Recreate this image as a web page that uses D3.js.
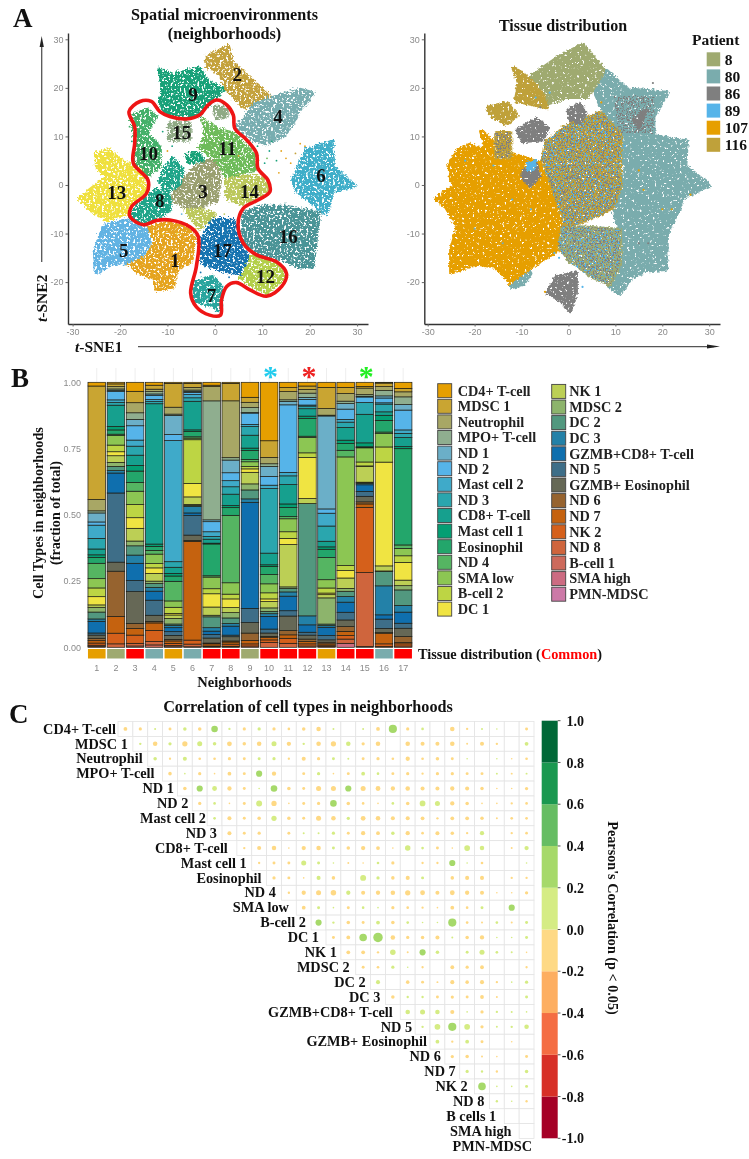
<!DOCTYPE html>
<html><head><meta charset="utf-8">
<script src="https://cdnjs.cloudflare.com/ajax/libs/d3/7.8.5/d3.min.js"></script>
<style>
html,body{margin:0;padding:0;background:#fff}
svg{display:block;filter:blur(0.35px)}
text{font-family:"Liberation Serif",serif;font-weight:bold;fill:#111}
.tick text{font-family:"Liberation Sans",sans-serif;font-weight:normal;fill:#8a8a8a;font-size:9px}
</style></head><body><svg id="c" width="749" height="1159"></svg>
<script>
// ---------- Panel A : regions of the t-SNE maps, [x, y] in t-SNE units
const nbIds=[1,2,3,4,5,6,7,8,9,10,11,12,13,14,15,16,17];
const nbColors=["#E5A41F","#C4A23C","#9AA071","#78ADB0","#62B3E3","#3FAEC9","#2AA59E","#1FA589","#18A178","#45B06A","#6EBB5A","#B3CF4A","#EFE03E","#BCC85C","#8FAA85","#4A9497","#1673B0"];
const nbHulls=[
 [[[-18.3,-16.1],[-14.4,-14.8],[-12.3,-11.3],[-14.4,-8.9],[-10.2,-7.6],[-6,-8.6],[-4.2,-10.6],[-4.9,-15.5],[-8.1,-17.5],[-8.8,-20.9],[-12.3,-21.6],[-12.6,-19.2],[-15.8,-18.2]]],
 [[[-1.8,26.4],[2.8,28.5],[3.9,25.1],[11.6,18.2],[8.8,16.8],[6,16.1],[2.5,19.9],[1.1,23],[-1.4,24.4]]],
 [[[-3.9,3.8],[.4,5.8],[1.1,1],[.4,-3.1],[-3.2,-4.5],[-6,-4.5],[-8.8,-3.1],[-8.1,-1],[-6,1.7]]],
 [[[4.6,12],[8.8,16.8],[13,18.2],[17.9,19.6],[20.7,18.9],[17.9,15.5],[16.5,12.7],[14.4,10],[10.9,8.6],[8.1,9.3]]],
 [[[-25.3,-14.1],[-23.5,-8.6],[-18.6,-7.2],[-14.4,-9.3],[-13.7,-12],[-15.1,-14.1],[-18.3,-15.8],[-21.4,-16.1],[-24.9,-17.9]]],
 [[[16.5,1],[19.3,7.2],[24.9,8.9],[24.9,3.8],[29.5,-.2],[24.9,-1],[23.5,-5.8],[20.7,-3.8],[17.2,-1]]],
 [[[-4.6,-20.3],[-.4,-18.9],[1.4,-20.9],[1.1,-25.8],[-1.1,-24.7],[-4.2,-23.7]]],
 [[[-17.9,-6.5],[-15.8,-3.8],[-12.3,-1],[-9.5,-2.4],[-9.5,-5.2],[-11.6,-6.5],[-15.1,-7.9]],[[-10.5,3.1],[-8.8,5.5],[-6.7,3.1],[-7.4,.3],[-10.2,-1.7],[-11.6,1]]],
 [[[-11.7,23.8],[-8.8,22.7],[-3.2,24],[-1.8,21.6],[1.8,19.6],[-.4,17.5],[-3.2,14.4],[-6,14.1],[-10.2,14.8],[-11.6,16.8],[-10.9,19.6]],[[-6,6.2],[-3.2,6.5],[-2.5,5.2],[-5.3,4.5]]],
 [[[-17.6,14.1],[-14.4,15.5],[-12.3,14.1],[-14.4,10.6],[-11.6,7.9],[-11.6,3.8],[-14.4,1.7],[-16.5,4.5],[-16.5,8.6]]],
 [[[-2.5,13.4],[1.1,11.3],[3.9,10.6],[8.8,5.8],[8.8,3.1],[5.3,2.4],[2.5,1.7],[.4,5.2],[-3.2,7.9],[-1.8,10]]],
 [[[6,-16.8],[8.1,-14.4],[13,-16.1],[15.1,-18.9],[10.9,-22.3],[8.1,-20.9],[5.3,-18.9]]],
 [[[-28.5,-2.7],[-22.8,1.7],[-24.9,3.8],[-24.9,6.5],[-22.1,7.2],[-20,5.2],[-15.8,3.1],[-14.4,-1],[-18.3,-4.5],[-18.6,-5.8],[-22.8,-7.2],[-26.4,-4.8]]],
 [[[2.5,1],[5.3,1.7],[10.2,1.7],[11.6,-1],[8.8,-3.1],[5.3,-3.8],[2.5,-2.4]],[[-6,-5.2],[-2.5,-5.2],[0,-6],[-3.2,-9]]],
 [[[-9.5,12.7],[-5.3,12.7],[-5.3,9.3],[-9.5,9.3]],[[0,16.1],[2.5,16.1],[2.5,14.1],[.4,13.7]]],
 [[[6,-5.8],[10.2,-4.5],[15.1,-4.5],[22.1,-5.8],[21.4,-10],[20.7,-16.8],[17.9,-16.8],[13,-14.8],[8.8,-14.1],[6,-11.3]]],
 [[[-3.2,-12],[-.4,-7.2],[3.9,-7.2],[5.3,-12],[7,-14.8],[5.3,-18.2],[1.1,-17.5],[-2.5,-16.1]]]
];
const nbLabelX=[-8.4,4.7,-2.5,13.3,-19.2,22.4,-.7,-11.6,-4.6,-14.0,2.6,10.7,-20.7,7.3,-7.0,15.5,1.6];
const nbLabelY=[-15.6,22.7,-1.4,14.1,-13.5,1.9,-22.7,-3.2,18.7,6.5,7.6,-18.8,-1.6,-1.4,10.8,-10.5,-13.5];
const commonContour=[[-18.1,15.1],[-15.8,17.2],[-13.4,17.2],[-11.6,15.1],[-9.5,14.1],[-6,13.6],[-3.2,14.4],[-1.4,16.5],[.4,17.5],[2.5,16.5],[3.9,14.4],[4.2,11.7],[6.7,9.3],[8.8,6.5],[9.1,3.4],[11.2,1],[11.6,-1.4],[9.1,-3.1],[6,-4.8],[4.9,-7.9],[6,-12],[8.8,-14.4],[13,-15.8],[15.1,-18.2],[14.1,-20.9],[10.9,-22.9],[7.4,-21.6],[4.6,-20.1],[2.5,-20.9],[1.4,-23.7],[1.2,-26.8],[-1.1,-26.8],[-3.9,-25.1],[-5.1,-22.3],[-3.9,-16.8],[-3.5,-10.6],[-5.3,-8.6],[-9.5,-7.2],[-12.3,-7.3],[-15.1,-8.2],[-17.9,-6.5],[-17.6,-4.5],[-14.4,-1.7],[-14.1,1],[-17.2,4.5],[-16.9,8.6],[-16.9,12]];
const leftStrays=[[14,7,0],[15,5.5,0],[16,4.5,0],[18,8.5,0],[19,8,0],[13,5,8],[12,9,8],[11.5,7,7],[10.5,4.5,7],[11,5.5,10],[13.5,2.5,0],[17,6.5,1],[-16,11,7],[-17.5,9,8],[-18,12,9],[-15,11.5,9],[-10,7,0],[-9,8,7],[-11,11,8],[-19,2,12],[-21,-5,12],[-7,-6,4],[-8,-10,12],[-11,-10,12],[-4,-9,12],[20.5,-3,5],[22,-7,15],[5,6,0],[9,8,8],[-3,-18,16],[-2,-19,6],[3,-19,16],[-6,15,8],[2,-6,13],[-1,-7,11]];
const patients=["8","80","86","89","107","116"];
const patientColors=["#9FAA70","#7AACAD","#7F7F7F","#56B4E9","#E69F00","#BFA13A"];
const p107Hull=[[-28.1,-2.9],[-23.5,.3],[-24.9,1],[-25.3,4.5],[-23.2,7.2],[-21,8.2],[-18.9,7.2],[-17.5,7.9],[-18.5,11],[-16.1,8.6],[-15.3,7.2],[-10.4,5.8],[-6.1,4.5],[-4.7,1],[-2.6,-3.1],[-1.8,-6.5],[-.4,-8.6],[-1.1,-12.7],[-4.7,-14.8],[-8.9,-17.5],[-12.1,-20.3],[-15.3,-16.8],[-19.6,-16.1],[-24.9,-17.9],[-24.9,-13.4],[-23.5,-8.6],[-26,-4.5]];
const p80Hulls=[[[5.3,20.1],[8.1,23.4],[12.4,19.6],[20.9,18.9],[18,14.1],[18,10],[25.1,8.9],[24.8,3.8],[29.8,0],[24.4,-2.4],[23,-5.8],[20.9,-10],[20.7,-17.2],[16.6,-17.5],[13.4,-18.9],[10.9,-22.3],[8.8,-20.9],[10.2,-16.8],[11.6,-11.3],[9.5,-4.5],[10.9,-1.7],[12.4,3.8],[9.5,6.5],[10.9,8.6],[8.1,14.1]],[[-12.1,-20.9],[-8.2,-18.2],[-9.7,-20.3]]];
const p8Hulls=[[[-8.9,21.6],[-1.8,26.4],[3.1,28.8],[7.4,23.7],[5.3,20.1],[3.8,18.2],[-.4,18.2],[-4.7,16.8],[-5.4,18.2],[-8.2,19.2]],[[-1.1,-8.6],[10.9,-9.3],[10.9,-16.1],[8.8,-20.3],[5.3,-18.9],[.3,-15.5],[-1.8,-12.7]]];
const p116Hulls=[[[-11.6,24],[-8.2,21.6],[-5.4,18.2],[-4.7,16.1],[-8.2,16.8],[-11.1,17.5],[-10.4,20.9]],[[-17.1,15.8],[-13.2,16.8],[-11.1,14.4],[-13.2,12.7],[-16.1,14.1]],[[-4.7,8.6],[-.4,12],[6.7,14.8],[10.9,10.6],[10.9,-.3],[9.5,-4.5],[5.3,-6.5],[-.4,-8.6],[-3.3,-.3],[-5.4,5.2]],[[-15.3,10.6],[-12.5,10.6],[-12.5,5.8],[-15.3,5.8]]];
const p86Hulls=[[[-11.1,11.3],[-6.8,13.7],[-4.3,11.7],[-5.4,9.3],[-9.7,8.9]],[[-.1,15.5],[2.4,16.8],[3.8,14.8],[2.4,12.7],[.3,13.4]],[[-4.7,-22.3],[-2.6,-18.9],[1.7,-17.9],[1.7,-22.3],[.4,-26.1],[-1.8,-23.7]],[[-9.7,3.1],[-6.8,4.5],[-6.1,1.7],[-8.2,-.3],[-9.7,1.4]],[[13.8,13.4],[16.6,15.5],[15.2,11.7]]];
const p89Hull=[[-8.9,4.5],[-6.8,5.2],[-7.2,3.1],[-8.9,3.1]];
const mixedZones=[[[-4.7,8.6],[-.4,12],[6.7,14.8],[10.9,10.6],[10.9,-.3],[9.5,-4.5],[5.3,-6.5],[-.4,-8.6],[-3.3,-.3],[-5.4,5.2]],[[-1.1,-8.6],[10.9,-9.3],[10.9,-16.1],[8.8,-20.3],[5.3,-18.9],[.3,-15.5],[-1.8,-12.7]],[[-15.3,10.6],[-12.5,10.6],[-12.5,5.8],[-15.3,5.8]],[[10,18],[18,18],[18,11],[11,11]]];
const rightStrays=[[-16,4,3],[-22,5,3],[-12,-3,3],[-20,-9,1],[-14,-12,1],[-8,-5,3],[-3,-14,3],[-2,-15,3],[16,-1,4],[15,3,4],[26,-2,4],[20,-5,4],[22,-5,4],[17,-12,2],[15,-12,2],[9,3,0],[11,3,0],[10,4,0],[-5,-22,4],[3,-21,3],[2,-20,2],[-4,19,3],[-7,18,3],[-6,16,2],[18,21,2],[7,17,4],[12,8,3],[11,6,3]];
// ---------- Panel B : composition of each neighborhood (top of the bar first)
const cellTypes=["CD4+ T-cell","MDSC 1","Neutrophil","MPO+ T-cell","ND 1","ND 2","Mast cell 2","ND 3","CD8+ T-cell","Mast cell 1","Eosinophil","ND 4","SMA low","B-cell 2","DC 1","NK 1","MDSC 2","DC 2","DC 3","GZMB+CD8+ T-cell","ND 5","GZMB+ Eosinophil","ND 6","ND 7","NK 2","ND 8","B-cell 1","SMA high","PMN-MDSC"];
const cellColors=["#E69F00","#C9A532","#A8A765","#8FAE8F","#6BAFC8","#56B4E9","#3FAAC9","#2AA6AE","#16A08E","#049E73","#23A66B","#55B562","#8CC653","#BDD544","#F0E442","#BCCF55","#8DB46C","#52987F","#2381A8","#0F6FAE","#3E6E88","#666856","#96632F","#C5620F","#D5601B","#CF653D","#CD6A5C","#CC6B82","#CC79A7"];
const nb1=[1.4,42.8,4.3,.8,3.4,1.2,5,4,2.2,1,2.2,5.8,3.5,3.3,3.1,.9,1.8,2.6,.9,4.4,.8,1.2,.9,.9,.8,.4,.4,0,0];
const nb2=[.6,1,.9,.5,.5,3.1,1,1,8,1.3,1.6,.5,3.6,2.5,1.5,2.5,1.5,1.6,.9,7.5,26,3.4,17,6.3,4,1.3,0,0,0];
const nb3=[3.4,4.3,3.8,2.5,2.4,5.4,2.3,3.4,3.9,2.1,4.3,3.3,5,5,4,4.8,1.8,3.5,3.1,6.5,4.2,12,1.9,2.5,3.1,1,.5,0,0];
const nb4=[1.1,1.5,.9,.9,.5,1.6,.8,.8,53,.9,1.5,1.4,3.6,1.6,2.1,2.9,.9,1.5,1.4,3.4,5.7,2.3,.6,2.8,4.2,1.3,.9,0,0];
const nb5=[.4,9,2.6,.5,7.2,2.3,45.7,2.1,2.3,1,2,7.4,2.4,2.3,.6,1.3,2.1,.6,.8,1.5,1.4,1.5,.6,.9,.8,.5,.2,0,0];
const nb6=[.4,1.5,1,.5,.4,.8,1.2,1.3,10.7,.6,2,.5,.6,16.4,5,2.8,.4,.4,2.4,1,7.3,2,.4,36.9,1.5,1,.2,0,0];
const nb7=[1.1,.5,5.4,44.9,.7,3.8,1.8,1,1.5,.3,12,.5,4.4,1.9,5,3.1,.6,4.1,1.3,1.3,1.3,1.9,.3,.8,.3,.2,0,0,0];
const nb8=[.4,6.6,21.5,.9,4.8,3,2.3,2.8,4.3,.8,2.9,25.5,4.3,1.8,3.3,1.9,2,2.1,1,3.4,.6,1.6,.4,.8,.8,.2,.2,0,0];
const nb9=[5.7,1.9,2,1.9,.2,4.3,.8,3.3,4.9,.9,3.4,.9,1.8,.9,1.3,4.4,2.3,3.4,1.3,40.3,5.4,4,2.8,1.3,.8,.5,0,0,0];
const nb10=[22.1,6.3,2.4,1,3.8,3.3,1.3,24.4,4.4,.6,3.1,3.5,3.4,2.3,1,2.4,1.3,.9,1,4.8,1.5,1.3,.3,1,1,1.8,0,0,0];
const nb11=[2,1.5,3.1,.6,1.3,25.5,1.3,3.3,7.3,1.4,3.4,.8,4.9,2.5,2.3,16,.6,1.3,1.6,5.5,2,5.5,1.6,1.3,1.9,1.5,0,0,0];
const nb12=[1.4,1.3,1.4,1.6,.8,2.1,.4,1,2.8,.9,6.7,.5,5.8,1.8,15.5,1.9,0,42.5,3.4,2.8,1.1,1.5,.9,.9,.8,.5,0,0,0];
const nb13=[1.9,7.9,2.5,.3,34.8,1.6,4.8,5.7,2.1,.9,3.1,8.3,3.1,1.9,.6,1.2,9.8,.6,.6,3.1,1.6,.9,.6,.5,.5,.3,0,0,0];
const nb14=[1.9,2.3,2.9,.9,2.1,3.9,1,2,4.8,1.3,2.5,2.5,40.9,1.9,2.8,3.9,1.1,2,2.1,3.8,2.9,2.5,1.8,1.6,1.3,1.6,0,1.5,0];
const nb15=[1.6,.6,2.5,.6,.3,2.1,0,4.5,10.9,1.5,.2,.2,5.4,1.5,.2,6,.2,.3,.5,2.5,1.9,2.1,.8,1.3,24.9,28.2,.3,0,0];
const nb16=[.3,1.3,1.5,2,.8,1.8,.5,2.9,1.3,1.9,4.4,.6,5,5.7,39,1.9,.2,5.4,10.9,1.6,3.5,1.6,.2,4,1,.3,0,0,0];
const nb17=[2.3,1.3,1.9,2.9,2.1,7.5,1.3,1.6,3.4,.8,36.4,1.3,2.8,2.5,6.7,2.1,1.6,5.9,2.5,4.2,1.9,3.1,2.3,.5,.8,.5,0,0,0];
const nbComposition=[nb1,nb2,nb3,nb4,nb5,nb6,nb7,nb8,nb9,nb10,nb11,nb12,nb13,nb14,nb15,nb16,nb17];
const tissue=["107","8","Common","80","107","80","Common","Common","8","Common","Common","Common","107","Common","Common","80","Common"];
const starNbs=[10,12,15];
const starColors=["#22CCEE","#EE2222","#22EE22"];
const fractionTicks=[0,.25,.5,.75,1];
// ---------- Panel C : upper triangle of Pearson's r; row i starts at column i; 0 = not significant
const heatLabels=["CD4+ T-cell","MDSC 1","Neutrophil","MPO+ T-cell","ND 1","ND 2","Mast cell 2","ND 3","CD8+ T-cell","Mast cell 1","Eosinophil","ND 4","SMA low","B-cell 2","DC 1","NK 1","MDSC 2","DC 2","DC 3","GZMB+CD8+ T-cell","ND 5","GZMB+ Eosinophil","ND 6","ND 7","NK 2","ND 8","B cells 1","SMA high","PMN-MDSC"];
const corrRows=[
[-.1,-.08,.04,-.07,.09,-.09,.22,.05,-.08,.08,-.08,-.06,-.09,-.13,.04,0,.04,-.1,.3,-.08,.06,0,-.13,-.05,.04,.03,0,-.07],
[.05,-.13,.08,-.16,.15,.09,-.14,-.09,-.13,.15,-.12,.05,-.13,-.16,.13,-.08,-.13,0,-.13,-.11,-.11,-.13,-.04,-.11,-.05,0,.1],
[.09,-.05,.11,-.06,-.06,-.08,-.07,.07,.08,-.05,-.11,-.08,.07,.04,-.07,-.08,-.06,-.12,-.06,-.09,-.07,.03,0,.03,-.03,-.06],
[-.09,.03,-.08,-.03,-.1,-.07,.2,-.12,0,-.07,.08,-.03,-.07,.1,.06,-.07,-.08,-.05,-.08,-.08,-.07,-.07,.04,-.04,.04],
[-.09,.2,.14,-.12,-.07,.03,.22,-.09,-.07,-.15,-.15,.2,-.15,-.14,-.12,-.13,-.11,-.11,-.12,-.11,-.09,-.03,-.03,-.08],
[-.08,.06,-.03,-.07,.19,-.16,-.03,-.07,-.08,.22,-.09,-.06,-.03,.06,-.09,.18,.15,-.12,-.09,-.03,-.03,-.05,-.06],
[.06,-.11,-.07,-.09,.16,-.09,-.07,-.15,-.13,.08,-.14,-.13,-.11,-.11,-.1,-.05,-.1,-.1,-.09,-.04,-.06,-.06],
[-.11,-.07,-.08,0,-.07,.04,.04,.08,-.07,-.12,-.1,.09,-.12,-.06,-.11,-.09,-.05,.12,0,-.05,-.06],
[-.05,-.11,-.13,-.03,-.12,-.13,.07,-.09,-.12,-.1,-.03,.17,.06,-.07,-.03,.18,.13,0,-.04,.12],
[-.05,-.07,-.07,.15,.07,.03,-.04,-.03,.06,-.08,0,-.05,-.05,.2,.03,-.06,0,0,.03],
[-.08,-.07,-.03,.11,-.09,0,.19,.08,-.09,-.11,.07,0,-.09,-.11,-.11,0,-.05,-.05],
[-.05,-.12,-.15,-.17,.12,-.11,-.12,-.13,-.16,-.14,-.11,-.14,-.12,-.11,-.03,-.03,-.08],
[-.1,.07,.03,-.07,.06,.03,-.08,-.06,-.05,-.03,-.1,-.06,.07,0,.2,0],
[.2,.05,-.09,-.07,.1,-.09,.06,.03,.03,.3,-.06,-.04,.06,-.04,.07],
[-.07,-.1,.27,.37,-.13,-.08,-.09,-.11,.04,-.09,-.12,.03,.03,.07],
[-.1,-.1,-.05,.17,-.04,.2,.09,0,.07,.15,.06,.04,-.03],
[-.07,-.06,.08,.03,-.05,0,-.1,-.08,-.1,0,0,-.05],
[.11,0,-.09,-.07,-.04,-.11,-.09,-.11,-.05,.03,.08],
[-.09,.05,.05,-.07,-.08,-.07,-.1,-.04,0,.07],
[.13,.15,.13,-.11,.03,-.08,.05,.04,.03],
[.05,.18,.3,.18,-.08,.04,.05,.13],
[.1,-.05,.1,-.07,0,-.03,0],
[-.08,-.09,-.04,-.03,0,-.07],
[.08,.05,-.05,0,.09],
[.27,.03,.03,.07],
[.05,.03,-.05],
[0,0],
[0]
];
const corrBreaks=[-.8,-.6,-.4,-.2,0,.2,.4,.6,.8];
const corrColors=["#A50026","#D73027","#F46D43","#FDAE61","#FED985","#D5EC84","#A6D96A","#66BD63","#1A9850","#006837"];
const corrTicks=[-1,-.8,-.6,-.4,-.2,0,.2,.4,.6,.8,1];
const heatLabelGap=[2,5,5,8,3.5,4,1.3,5,9,5,5,5.6,7.4,5.3,7,4,6,5,5,7.5,3,3,4,4,7,5,8,7.6,2];

// ---------- drawing
const svg=d3.select("#c");
const defs=svg.append("defs");
function speckle(id,freq,gain,off,disp,seed){
  const f=defs.append("filter").attr("id",id).attr("x","-5%").attr("y","-5%").attr("width","110%").attr("height","110%").attr("color-interpolation-filters","sRGB");
  f.append("feTurbulence").attr("type","fractalNoise").attr("baseFrequency",freq).attr("numOctaves",2).attr("seed",seed).attr("result","n");
  f.append("feDisplacementMap").attr("in","SourceGraphic").attr("in2","n").attr("scale",disp).attr("xChannelSelector","R").attr("yChannelSelector","G").attr("result","d");
  f.append("feColorMatrix").attr("in","n").attr("type","matrix").attr("values",`0 0 0 0 0 0 0 0 0 0 0 0 0 0 0 ${gain} 0 0 0 ${off}`).attr("result","m");
  f.append("feComposite").attr("in","d").attr("in2","m").attr("operator","in");
}
speckle("sp1",.45,9,-2.9,7,3);
speckle("sp2",.4,9,-2.2,5,8);
speckle("sp3",.6,14,-7.3,3,12);
speckle("sp4",.6,14,-8,3,21);

const xL=d3.scaleLinear().domain([-30.97,32.3]).range([68,368]);
const xR=d3.scaleLinear().domain([-30.72,32.3]).range([424.3,720]);
const yS=d3.scaleLinear().domain([-28.63,31.3]).range([324,33]);
const tsneTicks=[-30,-20,-10,0,10,20,30];
const tsneYTicks=[-20,-10,0,10,20,30];
function axes(x){
  svg.append("g").attr("transform","translate(0,324)").call(d3.axisBottom(x).tickValues(tsneTicks).tickFormat(String).tickSize(2.5).tickSizeOuter(0).tickPadding(2));
  svg.append("g").attr("transform",`translate(${x.range()[0]},0)`).call(d3.axisLeft(yS).tickValues(tsneYTicks).tickFormat(String).tickSize(2.5).tickSizeOuter(0).tickPadding(2));
}
const lineL=d3.line().x(d=>xL(d[0])).y(d=>yS(d[1]));
const lineR=d3.line().x(d=>xR(d[0])).y(d=>yS(d[1]));
function hull(g,line,h,c,w){g.append("path").attr("d",line(h)+"Z").attr("fill",c).attr("stroke",c).attr("stroke-width",w).attr("stroke-linejoin","round");}

// left map
const gL=svg.append("g").attr("filter","url(#sp1)");
nbHulls.forEach((parts,i)=>parts.forEach(p=>hull(gL,lineL,p,nbColors[i],4)));
svg.append("g").selectAll("circle").data(leftStrays).join("circle").attr("cx",d=>xL(d[0])).attr("cy",d=>yS(d[1])).attr("r",.9).attr("fill",d=>nbColors[d[2]]);
svg.append("path").attr("d",d3.line().x(d=>xL(d[0])).y(d=>yS(d[1])).curve(d3.curveCatmullRomClosed.alpha(.5))(commonContour)).attr("fill","none").attr("stroke","#EE1515").attr("stroke-width",3.6);
svg.append("g").selectAll("text").data(nbIds).join("text").attr("x",(d,i)=>xL(nbLabelX[i])).attr("y",(d,i)=>yS(nbLabelY[i])).attr("text-anchor","middle").attr("dy",".35em").attr("font-size",19).text(d=>d);
axes(xL);

// right map
const gR=svg.append("g").attr("filter","url(#sp2)");
const base=[[[p107Hull],patientColors[4]],[p80Hulls,patientColors[1]],[p8Hulls,patientColors[0]],[p116Hulls,patientColors[5]]];
base.forEach(([hs,c])=>hs.forEach(h=>hull(gR,lineR,h,c,5)));
const mixGray=svg.append("g").attr("filter","url(#sp3)");
mixedZones.forEach(h=>hull(mixGray,lineR,h,patientColors[2],3));
const mixBlue=svg.append("g").attr("filter","url(#sp4)");
mixedZones.slice(0,2).forEach(h=>hull(mixBlue,lineR,h,patientColors[3],3));
const gR2=svg.append("g").attr("filter","url(#sp2)");
p86Hulls.forEach(h=>hull(gR2,lineR,h,patientColors[2],3));
hull(gR2,lineR,p89Hull,patientColors[3],2);
svg.append("g").selectAll("circle").data(rightStrays).join("circle").attr("cx",d=>xR(d[0])).attr("cy",d=>yS(d[1])).attr("r",1.1).attr("fill",d=>patientColors[d[2]]);
axes(xR);
svg.selectAll(".domain").attr("stroke","#333").attr("stroke-width",1.4);
svg.selectAll(".tick line").attr("stroke","#666");

// arrows and axis names
svg.append("line").attr("x1",41.7).attr("x2",41.7).attr("y1",262).attr("y2",42).attr("stroke","#555").attr("stroke-width",1.3);
svg.append("path").attr("d","M41.7,36 L39.6,47 L43.8,47Z").attr("fill","#222");
svg.append("line").attr("x1",138).attr("x2",714).attr("y1",346.6).attr("y2",346.6).attr("stroke","#555").attr("stroke-width",1.3);
svg.append("path").attr("d","M720,346.6 L707,344.6 L707,348.6Z").attr("fill","#222");
const t1=svg.append("text").attr("x",75).attr("y",352).attr("font-size",15.5);
t1.append("tspan").attr("font-style","italic").text("t");t1.append("tspan").text("-SNE1");
const t2=svg.append("text").attr("transform","translate(47,322) rotate(-90)").attr("font-size",15.5);
t2.append("tspan").attr("font-style","italic").text("t");t2.append("tspan").text("-SNE2");

// titles
function T(s,x,y,fs,anchor){return svg.append("text").attr("x",x).attr("y",y).attr("font-size",fs).attr("text-anchor",anchor||"start").text(s);}
T("A",13,27,27);T("B",11,387,27);T("C",9,723,27);
T("Spatial microenvironments",224.5,20,16.2,"middle");
T("(neighborhoods)",224.5,39,16.2,"middle");
T("Tissue distribution",563,31,16,"middle");
T("Patient",692,45,15.5);
const pLegend=svg.append("g").selectAll("g").data(patients).join("g").attr("transform",(d,i)=>`translate(706.7,${59.3+17.1*i})`);
pLegend.append("rect").attr("x",0).attr("y",-7).attr("width",13.5).attr("height",14).attr("fill",(d,i)=>patientColors[i]);
pLegend.append("text").attr("x",18).attr("dy",".34em").attr("font-size",15.5).text(d=>d);

// Panel B
const xB=d3.scaleBand().domain(nbIds).range([87.2,412.7]).paddingInner(.08).paddingOuter(.04);
const yB=d3.scaleLinear().domain([0,1]).range([647.3,382.3]);
const rowsB=nbComposition.map((v,i)=>{const o={id:nbIds[i]};cellTypes.forEach((c,j)=>o[c]=v[j]);return o;});
const stackB=d3.stack().keys(cellTypes.slice().reverse()).offset(d3.stackOffsetExpand)(rowsB);
svg.append("g").selectAll("line").data(nbIds).join("line").attr("x1",d=>xB(d)+xB.bandwidth()/2).attr("x2",d=>xB(d)+xB.bandwidth()/2).attr("y1",368).attr("y2",382).attr("stroke","#eee");
svg.append("g").selectAll("g").data(stackB).join("g").attr("fill",d=>cellColors[cellTypes.indexOf(d.key)])
 .selectAll("rect").data(d=>d).join("rect").attr("x",d=>xB(d.data.id)).attr("width",xB.bandwidth()).attr("y",d=>yB(d[1])).attr("height",d=>Math.max(0,yB(d[0])-yB(d[1]))).attr("stroke",d=>(d[1]-d[0])>0?"#1c1c14":"none").attr("stroke-width",.7);
const tissueColor=t=>t==="Common"?"#FF0000":patientColors[patients.indexOf(t)];
svg.append("g").selectAll("rect").data(nbIds).join("rect").attr("x",d=>xB(d)).attr("width",xB.bandwidth()).attr("y",649).attr("height",9.5).attr("fill",(d,i)=>tissueColor(tissue[i]));
const axB=svg.append("g").attr("transform","translate(87,0)").call(d3.axisLeft(yB).tickValues(fractionTicks).tickFormat(d3.format(".2f")).tickSize(0).tickPadding(6));
axB.select(".domain").remove();
const axB2=svg.append("g").attr("transform","translate(0,660)").call(d3.axisBottom(xB).tickSize(0).tickPadding(5));
axB2.select(".domain").remove();
svg.append("g").selectAll("text").data(starNbs).join("text").attr("x",d=>xB(d)+xB.bandwidth()/2+1.5).attr("y",386).attr("text-anchor","middle").attr("font-size",30).style("fill",(d,i)=>starColors[i]).text("*");
svg.append("text").attr("transform","translate(43,513) rotate(-90)").attr("text-anchor","middle").attr("font-size",14.2).text("Cell Types in neighborhoods");
svg.append("text").attr("transform","translate(60,513) rotate(-90)").attr("text-anchor","middle").attr("font-size",14.2).text("(fraction of total)");
T("Neighborhoods",244.5,687,14.5,"middle");
const td=svg.append("text").attr("x",418).attr("y",659).attr("font-size",14.3);
td.append("tspan").text("Tissue distribution (");td.append("tspan").style("fill","#FF0000").text("Common");td.append("tspan").text(")");
// cell type legend
const legRows=15;
const lg=svg.append("g").selectAll("g").data(cellTypes).join("g").attr("transform",(d,i)=>i<legRows?`translate(437.7,${390.7+15.6*i})`:`translate(551.7,${391.4+15.6*(i-legRows)})`);
lg.append("rect").attr("x",0).attr("y",-7).attr("width",14).attr("height",14).attr("fill",(d,i)=>cellColors[i]).attr("stroke","#444").attr("stroke-width",.9);
lg.append("text").attr("x",(d,i)=>i<legRows?20:17.5).attr("dy",".34em").attr("font-size",14.3).style("fill","#222").text(d=>d);

// Panel C
T("Correlation of cell types in neighborhoods",308,712,16.2,"middle");
const nCols=corrRows.length;
const xH=d3.scaleBand().domain(d3.range(nCols)).range([118,534]);
const yH=d3.scaleBand().domain(d3.range(nCols)).range([721.5,1138.5]);
const rH=d3.scalePow().exponent(.7).domain([0,.4]).range([0,5]);
const colH=d3.scaleThreshold().domain(corrBreaks).range(corrColors);
const cells=corrRows.flatMap((r,i)=>r.map((v,j)=>({row:i,col:i+j,v})));
const gH=svg.append("g");
gH.selectAll("rect").data(cells).join("rect").attr("x",d=>xH(d.col)).attr("y",d=>yH(d.row)).attr("width",xH.bandwidth()).attr("height",yH.bandwidth()).attr("fill","#fff").attr("stroke","#e4e4e4").attr("stroke-width",.8);
gH.selectAll("circle").data(cells.filter(d=>d.v!==0)).join("circle").attr("cx",d=>xH(d.col)+xH.bandwidth()/2).attr("cy",d=>yH(d.row)+yH.bandwidth()/2).attr("r",d=>rH(Math.abs(d.v))).attr("fill",d=>colH(d.v));
svg.append("g").selectAll("text").data(heatLabels).join("text").attr("x",(d,i)=>118+xH.step()*i-heatLabelGap[i]).attr("y",(d,i)=>721.5+yH.step()*(i+.5)).attr("dy",".33em").attr("text-anchor","end").attr("font-size",14.3).text(d=>d);
// colour bar
const yC=d3.scaleLinear().domain([-1,1]).range([1138.3,720.7]);
const bands=corrColors.map((c,i)=>({c,lo:-1+.2*i,hi:-1+.2*(i+1)}));
svg.append("g").selectAll("rect").data(bands).join("rect").attr("x",541.7).attr("width",16).attr("y",d=>yC(d.hi)).attr("height",d=>yC(d.lo)-yC(d.hi)).attr("fill",d=>d.c);
svg.append("g").selectAll("line").data(corrTicks).join("line").attr("x1",557.7).attr("x2",560.5).attr("y1",d=>yC(d)).attr("y2",d=>yC(d)).attr("stroke","#555");
svg.append("g").selectAll("text").data(corrTicks).join("text").attr("x",584).attr("y",d=>yC(d)).attr("dy",".36em").attr("text-anchor","end").attr("font-size",14).text(d=>d.toFixed(1));
svg.append("text").attr("transform","translate(608,918) rotate(90)").attr("text-anchor","middle").attr("font-size",14.2).text("Pearson's Correlation (p < 0.05)");
</script></body></html>
